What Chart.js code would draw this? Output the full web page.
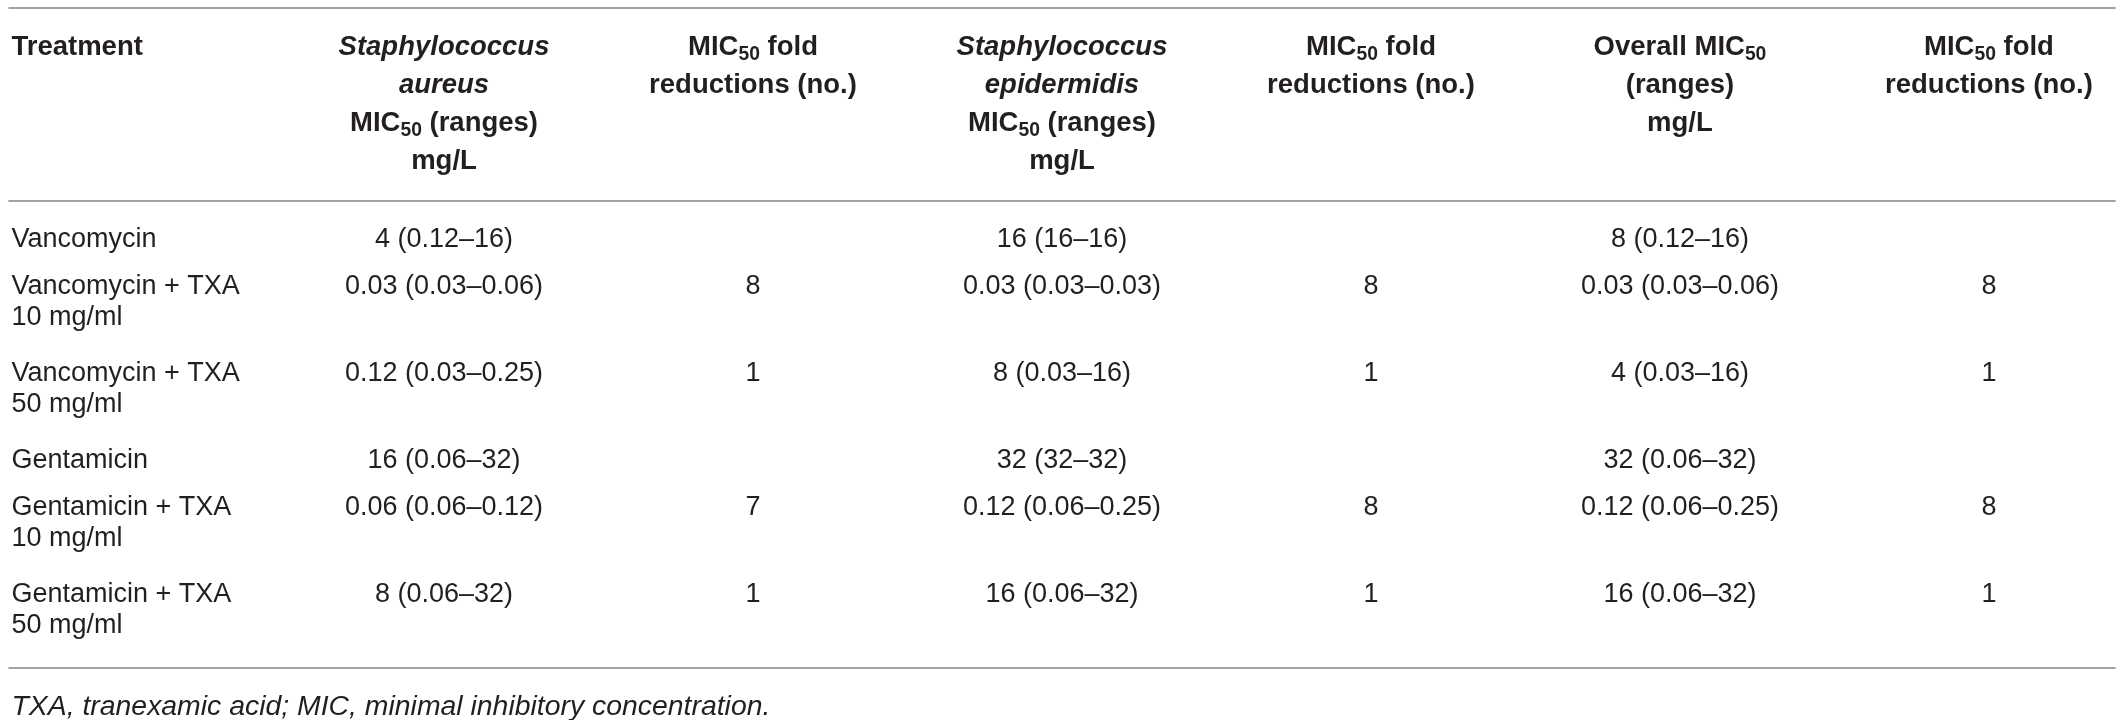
<!DOCTYPE html>
<html>
<head>
<meta charset="utf-8">
<script src="https://cdn.jsdelivr.net/npm/chart.js@4.4.0/dist/chart.umd.min.js"></script>
<style>
  html, body { margin: 0; padding: 0; background: #fff; }
  #wrap { width: 2128px; height: 720px; }
</style>
</head>
<body>
<div id="wrap"><canvas id="mic_table" width="2128" height="720"></canvas></div>
<script>
// table content ( *..* = italic, _50 = subscript )
const headers = [
  ["Treatment"],
  ["*Staphylococcus*", "*aureus*", "MIC_50 (ranges)", "mg/L"],
  ["MIC_50 fold", "reductions (no.)"],
  ["*Staphylococcus*", "*epidermidis*", "MIC_50 (ranges)", "mg/L"],
  ["MIC_50 fold", "reductions (no.)"],
  ["Overall MIC_50", "(ranges)", "mg/L"],
  ["MIC_50 fold", "reductions (no.)"]
];
const treatments = [
  "Vancomycin",
  "Vancomycin + TXA\n10 mg/ml",
  "Vancomycin + TXA\n50 mg/ml",
  "Gentamicin",
  "Gentamicin + TXA\n10 mg/ml",
  "Gentamicin + TXA\n50 mg/ml"
];
const aureusMic = ["4 (0.12–16)", "0.03 (0.03–0.06)", "0.12 (0.03–0.25)", "16 (0.06–32)", "0.06 (0.06–0.12)", "8 (0.06–32)"];
const aureusFold = ["", "8", "1", "", "7", "1"];
const epidermidisMic = ["16 (16–16)", "0.03 (0.03–0.03)", "8 (0.03–16)", "32 (32–32)", "0.12 (0.06–0.25)", "16 (0.06–32)"];
const epidermidisFold = ["", "8", "1", "", "8", "1"];
const overallMic = ["8 (0.12–16)", "0.03 (0.03–0.06)", "4 (0.03–16)", "32 (0.06–32)", "0.12 (0.06–0.25)", "16 (0.06–32)"];
const overallFold = ["", "8", "1", "", "8", "1"];
const footnote = "*TXA, tranexamic acid; MIC, minimal inhibitory concentration.*";

// layout (scale units: 1 x unit = one column, 1 y unit ~ one row line)
const LEFT = -0.40, RIGHT = 6.41;
const ROW_LINE = 0.9, ROW_PAD = 0.15;
const BODY_LINE = 0.69, HEAD_LINE = 0.85;
const HEADER_Y = -4.3, TOP_RULE = -5.12, HEAD_RULE = -0.8, BOTTOM_RULE = 9.63, FOOT_Y = 10.47;
const TEXT_COLOR = "#231f20", RULE_COLOR = "#a3a3a3";
const FONT = '"Liberation Sans", Arial, sans-serif';
const SIZES = { header: 27.5, body: 27, note: 28.4 };

const columns = [treatments, aureusMic, aureusFold, epidermidisMic, epidermidisFold, overallMic, overallFold];

const rowStart = [];
let acc = 0;
treatments.forEach(t => {
  rowStart.push(acc);
  acc += t.split("\n").length * ROW_LINE + ROW_PAD;
});

function colX(c) { return c === 0 ? LEFT : c; }

const datasets = columns.map((vals, c) => ({
  label: "col" + c,
  kind: "body",
  data: vals.map((v, i) => ({ x: colX(c), y: rowStart[i], text: v, align: c === 0 ? "left" : "center" })),
  pointRadius: 0
}));
datasets.push({
  label: "header",
  kind: "header",
  data: headers.map((h, c) => ({ x: colX(c), y: HEADER_Y, text: h.join("\n"), align: c === 0 ? "left" : "center" })),
  pointRadius: 0
});
datasets.push({
  label: "note",
  kind: "note",
  data: [{ x: LEFT, y: FOOT_Y, text: footnote, align: "left" }],
  pointRadius: 0
});

function runsOf(line) {
  const italic = line.startsWith("*") && line.endsWith("*");
  const s = italic ? line.slice(1, -1) : line;
  const runs = [];
  s.split(/(_\d+)/).forEach(part => {
    if (!part) return;
    if (part.startsWith("_")) runs.push({ text: part.slice(1), sub: true, italic });
    else runs.push({ text: part, sub: false, italic });
  });
  return runs;
}

function drawLine(ctx, line, x, y, align, size, weight) {
  const runs = runsOf(line);
  const fontFor = r => (r.italic ? "italic " : "") + weight + " " + (r.sub ? size * 0.7 : size).toFixed(1) + "px " + FONT;
  let total = 0;
  runs.forEach(r => { ctx.font = fontFor(r); r.w = ctx.measureText(r.text).width; total += r.w; });
  let cx = align === "left" ? x : x - total / 2;
  const base = y + size * 0.36;
  runs.forEach(r => {
    ctx.font = fontFor(r);
    ctx.fillText(r.text, cx, r.sub ? base + size * 0.2 : base);
    cx += r.w;
  });
}

const tablePlugin = {
  id: "tablePlugin",
  beforeDatasetsDraw(chart) {
    const ctx = chart.ctx, xs = chart.scales.x, ys = chart.scales.y;
    ctx.save();
    ctx.strokeStyle = RULE_COLOR;
    ctx.lineWidth = 2;
    [TOP_RULE, HEAD_RULE, BOTTOM_RULE].forEach(v => {
      const py = Math.round(ys.getPixelForValue(v));
      ctx.beginPath();
      ctx.moveTo(xs.getPixelForValue(LEFT) - 3, py);
      ctx.lineTo(xs.getPixelForValue(RIGHT), py);
      ctx.stroke();
    });
    ctx.restore();
  },
  afterDatasetsDraw(chart) {
    const ctx = chart.ctx, ys = chart.scales.y;
    ctx.save();
    ctx.fillStyle = TEXT_COLOR;
    ctx.textBaseline = "alphabetic";
    ctx.textAlign = "left";
    chart.data.datasets.forEach((ds, i) => {
      const meta = chart.getDatasetMeta(i);
      const size = SIZES[ds.kind];
      const weight = ds.kind === "header" ? "bold" : "normal";
      const step = ds.kind === "header" ? HEAD_LINE : BODY_LINE;
      meta.data.forEach((el, j) => {
        const raw = ds.data[j];
        if (!raw.text) return;
        raw.text.split("\n").forEach((line, k) => {
          const py = ys.getPixelForValue(raw.y + k * step);
          drawLine(ctx, line, el.x, py, raw.align, size, weight);
        });
      });
    });
    ctx.restore();
  }
};

new Chart(document.getElementById("mic_table").getContext("2d"), {
  type: "scatter",
  data: { datasets: datasets },
  options: {
    responsive: false,
    animation: false,
    devicePixelRatio: 1,
    layout: { padding: 0 },
    events: [],
    scales: {
      x: { type: "linear", min: -0.437, max: 6.45, display: false },
      y: { type: "linear", min: -5.3, max: 10.8, reverse: true, display: false }
    },
    plugins: { legend: { display: false }, tooltip: { enabled: false } }
  },
  plugins: [tablePlugin]
});
</script>
</body>
</html>
